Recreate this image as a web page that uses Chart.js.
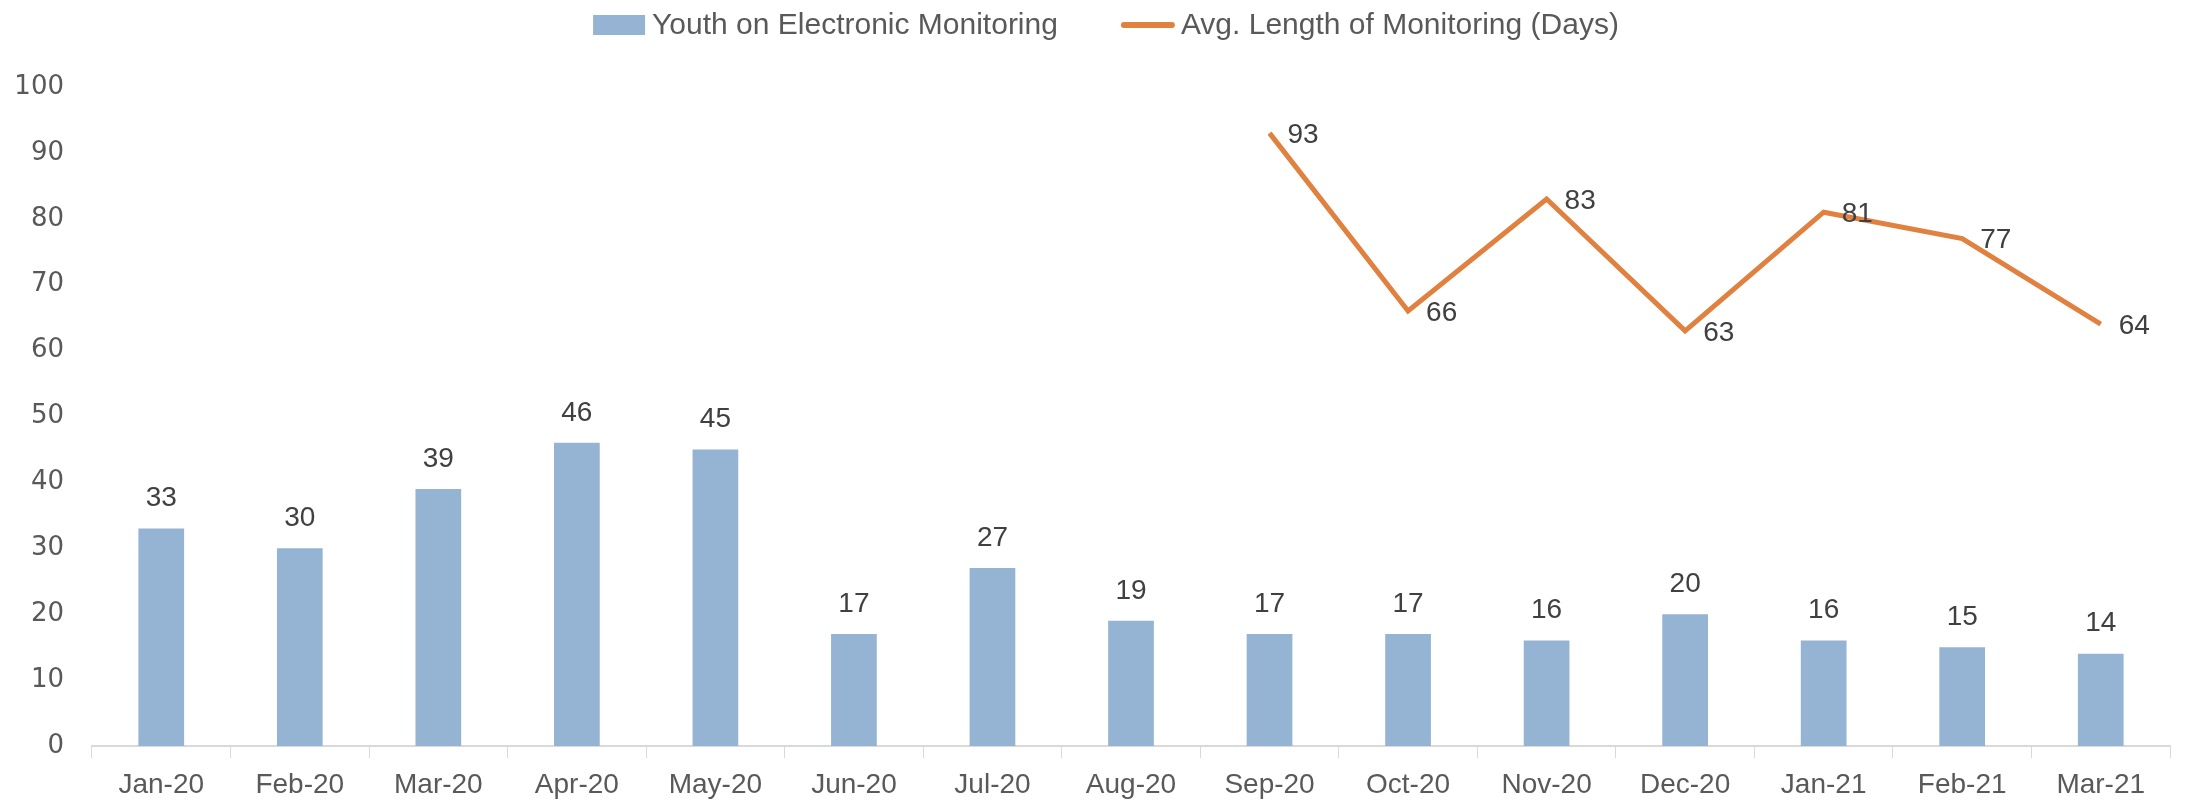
<!DOCTYPE html>
<html>
<head>
<meta charset="utf-8">
<script src="https://cdn.jsdelivr.net/npm/chart.js@4/dist/chart.umd.min.js"></script>
<style>
  html, body { margin: 0; padding: 0; background: #fff; }
  #wrap { width: 2188px; height: 802px; }
</style>
</head>
<body>
<div id="wrap"><canvas id="C" width="2188" height="802"></canvas></div>
<script>
let months = ["Jan-20", "Feb-20", "Mar-20", "Apr-20", "May-20", "Jun-20", "Jul-20", "Aug-20",
  "Sep-20", "Oct-20", "Nov-20", "Dec-20", "Jan-21", "Feb-21", "Mar-21"];
let youthCounts = [33, 30, 39, 46, 45, 17, 27, 19, 17, 17, 16, 20, 16, 15, 14];
let avgDays = [null, null, null, null, null, null, null, null, 93, 66, 83, 63, 81, 77, 64];
let yTicks = [0, 10, 20, 30, 40, 50, 60, 70, 80, 90, 100];

let textFont = "'Liberation Sans', sans-serif";

// value labels: above bars, right of line points
let valueLabels = {
  id: "valueLabels",
  afterDatasetsDraw(chart) {
    let ctx = chart.ctx;
    ctx.save();
    ctx.fillStyle = "#404040";
    ctx.font = "28px " + textFont;
    ctx.textBaseline = "middle";
    chart.data.datasets.forEach((ds, i) => {
      let meta = chart.getDatasetMeta(i);
      meta.data.forEach((el, j) => {
        let v = ds.data[j];
        if (v === null) return;
        if (ds.type === "line") {
          ctx.textAlign = "left";
          ctx.fillText(v, el.x + 18, el.y + 2);
        } else {
          ctx.textAlign = "center";
          ctx.fillText(v, el.x, el.y - 30);
        }
      });
    });
    ctx.restore();
  }
};

// legend drawn by hand so the spacing can match (box / line + text, wide gap)
let topLegend = {
  id: "topLegend",
  afterDraw(chart) {
    let ctx = chart.ctx;
    let sym = 52, gapText = 7, gapItem = 64, cy = 25;
    ctx.save();
    ctx.font = "30px " + textFont;
    ctx.textBaseline = "middle";
    ctx.textAlign = "left";
    let items = chart.data.datasets;
    let total = 0;
    items.forEach((ds, i) => {
      total += sym + gapText + ctx.measureText(ds.label).width;
      if (i < items.length - 1) total += gapItem;
    });
    let x = chart.width / 2 + 12 - total / 2;
    items.forEach(ds => {
      if (ds.type === "line") {
        ctx.strokeStyle = ds.borderColor;
        ctx.lineWidth = 6;
        ctx.lineCap = "round";
        ctx.beginPath();
        ctx.moveTo(x + 2, cy);
        ctx.lineTo(x + sym - 2, cy);
        ctx.stroke();
      } else {
        ctx.fillStyle = ds.backgroundColor;
        ctx.fillRect(x, cy - 10, sym, 20);
      }
      x += sym + gapText;
      ctx.fillStyle = "#595959";
      ctx.fillText(ds.label, x, cy + 1);
      x += ctx.measureText(ds.label).width + gapItem;
    });
    ctx.restore();
  }
};

let ctxC = document.getElementById("C").getContext("2d");
let chart = new Chart(ctxC, {
  data: {
    labels: months,
    datasets: [
      {
        type: "bar",
        label: "Youth on Electronic Monitoring",
        data: youthCounts,
        backgroundColor: "#95b3d3",
        borderWidth: 0,
        barPercentage: 0.33,
        categoryPercentage: 1,
        order: 2
      },
      {
        type: "line",
        label: "Avg. Length of Monitoring (Days)",
        data: avgDays,
        borderColor: "#e0813f",
        backgroundColor: "#e0813f",
        borderWidth: 5,
        pointRadius: 0,
        spanGaps: false,
        order: 1
      }
    ]
  },
  options: {
    responsive: false,
    animation: false,
    layout: { padding: { left: 16, right: 18, top: 87, bottom: 0 } },
    plugins: {
      tooltip: { enabled: false },
      legend: { display: false }
    },
    scales: {
      x: {
        afterFit(scale) { scale.height = 56; },
        grid: {
          drawOnChartArea: false,
          color: "#d9d9d9",
          tickLength: 12
        },
        border: { color: "#d9d9d9", width: 2 },
        ticks: {
          color: "#595959",
          font: { family: textFont, size: 28 },
          maxRotation: 0,
          padding: 10
        }
      },
      y: {
        min: 0,
        max: 100,
        afterFit(scale) { scale.width = 76; },
        afterBuildTicks(axis) {
          axis.ticks = yTicks.map(v => ({ value: v }));
        },
        grid: { display: false },
        border: { display: false },
        ticks: {
          color: "#595959",
          font: { family: "'DejaVu Sans', sans-serif", size: 26 },
          padding: 20
        }
      }
    }
  },
  plugins: [valueLabels, topLegend]
});
</script>
</body>
</html>
